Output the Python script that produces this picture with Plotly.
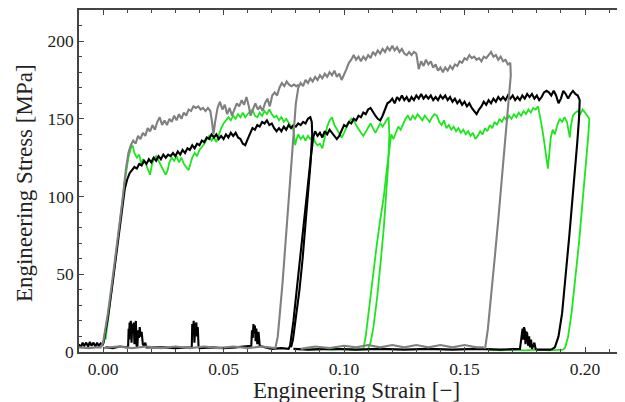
import plotly.graph_objects as go

# ---------------- data (engineering strain [-], engineering stress [MPa]) ----------------
gray_test1 = [(-0.0100, 3), (-0.0060, 2.5), (-0.0030, 3), (-0.0010, 3), (0.0000, 6), (0.0020, 25), (0.0040, 48),
              (0.0060, 72), (0.0080, 97), (0.0095, 118), (0.0105, 128), (0.0115, 133), (0.0125, 136), (0.0135, 134),
              (0.0145, 139), (0.0155, 137), (0.0165, 141), (0.0175, 139), (0.0185, 144), (0.0195, 142), (0.0205, 146),
              (0.0215, 143), (0.0225, 148), (0.0235, 151), (0.0245, 146), (0.0255, 149), (0.0265, 146), (0.0275, 150),
              (0.0285, 148), (0.0295, 152), (0.0305, 149), (0.0315, 153), (0.0325, 150), (0.0335, 154), (0.0345, 152),
              (0.0355, 156), (0.0365, 155), (0.0375, 158), (0.0385, 157), (0.0395, 158), (0.0405, 156), (0.0415, 157),
              (0.0425, 155), (0.0435, 157), (0.0445, 155), (0.0452, 148), (0.0458, 140), (0.0465, 148), (0.0475, 157),
              (0.0485, 161), (0.0495, 156), (0.0505, 159), (0.0515, 153), (0.0525, 157), (0.0535, 152), (0.0545, 156),
              (0.0555, 160), (0.0565, 158), (0.0575, 162), (0.0585, 159), (0.0595, 164), (0.0605, 158), (0.0612, 152),
              (0.0622, 156), (0.0632, 160), (0.0642, 156), (0.0652, 158), (0.0662, 155), (0.0672, 160), (0.0682, 163),
              (0.0692, 158), (0.0702, 165), (0.0712, 167), (0.0722, 165), (0.0732, 170), (0.0742, 173), (0.0752, 171),
              (0.0762, 174), (0.0772, 172), (0.0782, 171), (0.0792, 172), (0.0802, 171), (0.0812, 172)]

gray_test2 = [(0.0000, 2.5), (0.0060, 3.5), (0.0120, 2.5), (0.0180, 3.5), (0.0240, 2.5), (0.0300, 3.5), (0.0360, 2.5),
              (0.0420, 3.5), (0.0480, 2.5), (0.0540, 3.5), (0.0600, 2.5), (0.0660, 3.5), (0.0715, 2.5), (0.0725, 10),
              (0.0745, 45), (0.0765, 85), (0.0780, 115), (0.0790, 140), (0.0800, 160), (0.0810, 170), (0.0820, 173),
              (0.0830, 171), (0.0840, 175), (0.0850, 173), (0.0860, 176), (0.0870, 174), (0.0880, 177), (0.0890, 175),
              (0.0900, 178), (0.0910, 176), (0.0920, 179), (0.0930, 177), (0.0940, 180), (0.0950, 178), (0.0960, 181),
              (0.0970, 177), (0.0980, 179), (0.0990, 175), (0.1000, 178), (0.1010, 182), (0.1020, 186), (0.1030, 188),
              (0.1040, 191), (0.1050, 188), (0.1060, 190), (0.1070, 187), (0.1080, 190), (0.1090, 188), (0.1100, 191),
              (0.1110, 189), (0.1120, 193), (0.1130, 191), (0.1140, 194), (0.1150, 192), (0.1160, 195), (0.1170, 193),
              (0.1180, 196), (0.1190, 194), (0.1200, 197), (0.1210, 194), (0.1220, 196), (0.1230, 193), (0.1240, 195),
              (0.1250, 192), (0.1260, 191), (0.1270, 193), (0.1280, 191), (0.1290, 193), (0.1300, 192), (0.1305, 186),
              (0.1310, 182), (0.1320, 187), (0.1330, 184), (0.1340, 188), (0.1350, 185), (0.1360, 187), (0.1370, 183),
              (0.1380, 185), (0.1390, 181), (0.1400, 183), (0.1410, 180), (0.1420, 183), (0.1430, 181), (0.1440, 184),
              (0.1450, 182), (0.1460, 185), (0.1470, 184), (0.1480, 187), (0.1490, 186), (0.1500, 189), (0.1510, 188),
              (0.1520, 191), (0.1530, 189), (0.1540, 190), (0.1550, 188), (0.1560, 189), (0.1570, 187), (0.1580, 190),
              (0.1590, 189), (0.1600, 191), (0.1610, 193), (0.1620, 190), (0.1630, 191), (0.1640, 188), (0.1650, 190),
              (0.1660, 187), (0.1670, 188), (0.1680, 185), (0.1690, 186), (0.1692, 178), (0.1682, 160), (0.1670, 135),
              (0.1655, 110), (0.1640, 85), (0.1625, 60), (0.1610, 35), (0.1597, 15), (0.1587, 4), (0.1585, 2)]

gray_base = [(0.0820, 2), (0.0880, 3.5), (0.0940, 2.5), (0.1000, 4), (0.1050, 3), (0.1100, 4.5), (0.1150, 3),
             (0.1200, 4.5), (0.1250, 3), (0.1300, 4.5), (0.1350, 3), (0.1400, 4.5), (0.1450, 3), (0.1500, 4.5),
             (0.1550, 3), (0.1580, 3)]

black_test1 = [(-0.0100, 5), (-0.0092, 3), (-0.0085, 6), (-0.0078, 4), (-0.0070, 6), (-0.0062, 3.5), (-0.0055, 6.5),
               (-0.0048, 4), (-0.0040, 6), (-0.0032, 3.5), (-0.0025, 6), (-0.0018, 4), (-0.0010, 5.5), (-0.0004, 4),
               (0.0002, 6), (0.0020, 22), (0.0040, 45), (0.0060, 70), (0.0080, 95), (0.0090, 105), (0.0100, 111),
               (0.0110, 115), (0.0120, 117), (0.0130, 119), (0.0140, 118), (0.0150, 121), (0.0160, 120), (0.0170, 123),
               (0.0180, 121), (0.0190, 124), (0.0200, 122), (0.0210, 125), (0.0220, 123), (0.0230, 126), (0.0240, 124),
               (0.0250, 127), (0.0260, 125), (0.0270, 127), (0.0280, 126), (0.0290, 128), (0.0300, 126), (0.0310, 129),
               (0.0320, 127), (0.0330, 130), (0.0340, 128), (0.0350, 131), (0.0360, 130), (0.0370, 133), (0.0380, 131),
               (0.0390, 134), (0.0400, 133), (0.0410, 136), (0.0420, 135), (0.0430, 138), (0.0440, 137), (0.0450, 140),
               (0.0460, 138), (0.0470, 140), (0.0480, 137), (0.0490, 139), (0.0500, 137), (0.0510, 140), (0.0520, 138),
               (0.0530, 141), (0.0540, 139), (0.0550, 141), (0.0560, 138), (0.0570, 137), (0.0580, 134), (0.0590, 133),
               (0.0600, 137), (0.0610, 141), (0.0620, 144), (0.0630, 143), (0.0640, 146), (0.0650, 145), (0.0660, 148),
               (0.0670, 147), (0.0680, 149), (0.0690, 146), (0.0700, 147), (0.0710, 144), (0.0720, 142), (0.0730, 144),
               (0.0740, 142), (0.0750, 145), (0.0760, 143), (0.0770, 146), (0.0780, 144), (0.0790, 146), (0.0800, 145),
               (0.0810, 147), (0.0820, 146), (0.0830, 148), (0.0840, 147), (0.0850, 150), (0.0860, 151), (0.0866, 148),
               (0.0868, 140), (0.0860, 120), (0.0850, 100), (0.0840, 80), (0.0828, 60), (0.0815, 40), (0.0800, 20),
               (0.0788, 8), (0.0780, 3)]

black_test2 = [(0.0010, 3), (0.0040, 2.5), (0.0070, 3.5), (0.0100, 3), (0.0104, 4), (0.0106, 15), (0.0108, 8),
               (0.0110, 19), (0.0112, 10), (0.0115, 20), (0.0118, 6), (0.0121, 18), (0.0124, 12), (0.0127, 19),
               (0.0130, 5), (0.0133, 17), (0.0136, 20), (0.0139, 4), (0.0142, 3), (0.0146, 14), (0.0149, 9),
               (0.0152, 16), (0.0156, 10), (0.0160, 13), (0.0165, 5), (0.0170, 4), (0.0175, 6), (0.0180, 3),
               (0.0250, 3), (0.0300, 2.5), (0.0350, 3), (0.0368, 3), (0.0370, 18), (0.0373, 12), (0.0376, 20),
               (0.0379, 6), (0.0383, 17), (0.0387, 19), (0.0390, 10), (0.0393, 16), (0.0396, 4), (0.0400, 2.5),
               (0.0450, 3), (0.0500, 2.5), (0.0550, 3), (0.0600, 3.5), (0.0615, 4), (0.0618, 14), (0.0621, 9),
               (0.0624, 18), (0.0627, 12), (0.0630, 17), (0.0633, 7), (0.0636, 15), (0.0640, 5), (0.0645, 13),
               (0.0650, 4), (0.0670, 3), (0.0700, 2), (0.0740, 2.5), (0.0770, 2), (0.0776, 4), (0.0790, 20),
               (0.0805, 42), (0.0820, 65), (0.0835, 88), (0.0850, 108), (0.0862, 125), (0.0872, 138), (0.0880, 142),
               (0.0890, 139), (0.0900, 141), (0.0910, 138), (0.0920, 142), (0.0930, 140), (0.0940, 143), (0.0950, 141),
               (0.0960, 139), (0.0970, 137), (0.0980, 139), (0.0990, 143), (0.1000, 146), (0.1010, 145), (0.1020, 148),
               (0.1030, 147), (0.1040, 150), (0.1050, 149), (0.1060, 152), (0.1070, 151), (0.1080, 154), (0.1090, 153),
               (0.1100, 156), (0.1110, 157), (0.1120, 154), (0.1130, 152), (0.1140, 150), (0.1150, 149), (0.1160, 152),
               (0.1170, 156), (0.1180, 160), (0.1190, 161), (0.1200, 163), (0.1210, 160), (0.1220, 164), (0.1230, 162),
               (0.1240, 165), (0.1250, 162), (0.1260, 164), (0.1270, 161), (0.1280, 164), (0.1290, 162), (0.1300, 165),
               (0.1310, 163), (0.1320, 166), (0.1330, 163), (0.1340, 165), (0.1350, 163), (0.1360, 165), (0.1370, 162),
               (0.1380, 164), (0.1390, 162), (0.1400, 165), (0.1410, 163), (0.1420, 165), (0.1430, 162), (0.1440, 164),
               (0.1450, 161), (0.1460, 163), (0.1470, 160), (0.1480, 162), (0.1490, 159), (0.1500, 161), (0.1510, 158),
               (0.1520, 160), (0.1530, 157), (0.1540, 155), (0.1550, 153), (0.1560, 156), (0.1570, 158), (0.1580, 161),
               (0.1590, 159), (0.1600, 162), (0.1610, 160), (0.1620, 163), (0.1630, 161), (0.1640, 164), (0.1650, 162),
               (0.1660, 164), (0.1670, 162), (0.1680, 165), (0.1690, 163), (0.1700, 165), (0.1710, 162), (0.1720, 164),
               (0.1730, 162), (0.1740, 165), (0.1750, 163), (0.1760, 166), (0.1770, 164), (0.1780, 166), (0.1790, 163),
               (0.1800, 165), (0.1810, 162), (0.1820, 164), (0.1830, 167), (0.1840, 168), (0.1850, 167), (0.1860, 165),
               (0.1870, 168), (0.1880, 165), (0.1890, 160), (0.1900, 163), (0.1910, 168), (0.1920, 166), (0.1930, 163),
               (0.1940, 166), (0.1950, 168), (0.1960, 166), (0.1970, 165), (0.1978, 162), (0.1975, 150), (0.1968, 135),
               (0.1958, 115), (0.1948, 97), (0.1935, 75), (0.1920, 50), (0.1905, 25), (0.1890, 10), (0.1875, 3),
               (0.1860, 1.5)]

black_base = [(0.0790, 2), (0.0850, 1.5), (0.0950, 2), (0.1050, 1.5), (0.1150, 2), (0.1250, 1.5), (0.1350, 2),
              (0.1450, 1.5), (0.1550, 2), (0.1650, 1.5), (0.1730, 2), (0.1738, 12), (0.1741, 15), (0.1744, 8),
              (0.1747, 16), (0.1750, 14), (0.1753, 5), (0.1756, 13), (0.1760, 12), (0.1764, 4), (0.1768, 10),
              (0.1772, 3), (0.1776, 8), (0.1780, 2), (0.1790, 6), (0.1795, 2), (0.1800, 1.5), (0.1860, 1.5)]

green_test1 = [(0.0010, 8), (0.0030, 32), (0.0050, 58), (0.0070, 84), (0.0090, 110), (0.0105, 125), (0.0115, 131),
               (0.0122, 133), (0.0130, 128), (0.0140, 125), (0.0150, 127), (0.0158, 121), (0.0165, 124), (0.0175, 122),
               (0.0185, 118), (0.0195, 114), (0.0202, 120), (0.0210, 124), (0.0220, 126), (0.0230, 123), (0.0240, 121),
               (0.0250, 118), (0.0260, 114), (0.0268, 117), (0.0275, 122), (0.0285, 125), (0.0295, 123), (0.0305, 126),
               (0.0315, 122), (0.0325, 125), (0.0335, 121), (0.0345, 119), (0.0355, 117), (0.0362, 121), (0.0370, 125),
               (0.0380, 128), (0.0390, 126), (0.0400, 130), (0.0410, 132), (0.0420, 134), (0.0430, 137), (0.0440, 139),
               (0.0450, 136), (0.0460, 138), (0.0470, 135), (0.0480, 140), (0.0490, 144), (0.0500, 147), (0.0510, 149),
               (0.0520, 151), (0.0530, 149), (0.0540, 152), (0.0550, 150), (0.0560, 153), (0.0570, 151), (0.0580, 154),
               (0.0590, 151), (0.0600, 153), (0.0610, 155), (0.0620, 156), (0.0630, 152), (0.0640, 151), (0.0650, 154),
               (0.0660, 152), (0.0670, 155), (0.0680, 153), (0.0690, 156), (0.0700, 153), (0.0710, 151), (0.0720, 152),
               (0.0730, 149), (0.0740, 151), (0.0750, 148), (0.0760, 150), (0.0770, 147), (0.0780, 145), (0.0790, 143),
               (0.0797, 133), (0.0803, 137), (0.0810, 140), (0.0820, 137), (0.0830, 139), (0.0840, 136), (0.0850, 139),
               (0.0860, 137), (0.0870, 139), (0.0880, 135), (0.0890, 133), (0.0900, 134), (0.0910, 131), (0.0920, 138),
               (0.0930, 145), (0.0940, 149), (0.0950, 151), (0.0960, 146), (0.0970, 143), (0.0980, 140), (0.0990, 138),
               (0.1000, 141), (0.1010, 145), (0.1020, 148), (0.1030, 150), (0.1040, 149), (0.1050, 146), (0.1060, 143),
               (0.1070, 141), (0.1080, 139), (0.1090, 142), (0.1100, 145), (0.1110, 147), (0.1120, 144), (0.1130, 141),
               (0.1140, 144), (0.1150, 147), (0.1160, 145), (0.1170, 148), (0.1180, 150), (0.1185, 151), (0.1188, 140),
               (0.1183, 120), (0.1175, 100), (0.1165, 80), (0.1152, 58), (0.1138, 36), (0.1122, 16), (0.1110, 6),
               (0.1100, 2)]

green_test2 = [(0.0850, 1.5), (0.0900, 2), (0.0950, 1.5), (0.1000, 2), (0.1050, 1.5), (0.1080, 2), (0.1090, 10),
               (0.1105, 30), (0.1120, 50), (0.1135, 68), (0.1150, 85), (0.1165, 100), (0.1178, 118), (0.1188, 132),
               (0.1196, 140), (0.1205, 137), (0.1215, 141), (0.1225, 145), (0.1235, 143), (0.1245, 147), (0.1255, 150),
               (0.1265, 152), (0.1275, 149), (0.1285, 152), (0.1295, 150), (0.1305, 153), (0.1315, 151), (0.1325, 149),
               (0.1335, 152), (0.1345, 150), (0.1355, 148), (0.1365, 151), (0.1375, 153), (0.1385, 152), (0.1395, 148),
               (0.1405, 146), (0.1415, 149), (0.1425, 144), (0.1435, 146), (0.1445, 143), (0.1455, 145), (0.1465, 142),
               (0.1475, 144), (0.1485, 141), (0.1495, 143), (0.1505, 140), (0.1515, 142), (0.1525, 139), (0.1535, 141),
               (0.1545, 137), (0.1555, 139), (0.1565, 142), (0.1575, 140), (0.1585, 144), (0.1595, 142), (0.1605, 146),
               (0.1615, 144), (0.1625, 148), (0.1635, 146), (0.1645, 150), (0.1655, 148), (0.1665, 151), (0.1675, 149),
               (0.1685, 152), (0.1695, 150), (0.1705, 153), (0.1715, 151), (0.1725, 154), (0.1735, 152), (0.1745, 155),
               (0.1755, 153), (0.1765, 156), (0.1775, 154), (0.1785, 157), (0.1795, 156), (0.1805, 158), (0.1812, 153),
               (0.1820, 146), (0.1828, 138), (0.1835, 130), (0.1841, 122), (0.1846, 118), (0.1852, 128), (0.1858, 138),
               (0.1866, 143), (0.1875, 140), (0.1885, 146), (0.1895, 150), (0.1905, 148), (0.1915, 151), (0.1925, 148),
               (0.1932, 142), (0.1937, 138), (0.1942, 146), (0.1950, 152), (0.1960, 154), (0.1970, 155), (0.1980, 153),
               (0.1990, 156), (0.2000, 154), (0.2010, 152), (0.2018, 150), (0.2014, 140), (0.2006, 125), (0.1996, 105),
               (0.1988, 90), (0.1975, 70), (0.1960, 48), (0.1945, 26), (0.1930, 10), (0.1918, 3), (0.1910, 1.5)]

green_base = [(0.1600, 1.5), (0.1650, 1), (0.1700, 1.5), (0.1750, 1), (0.1800, 1.5), (0.1850, 1), (0.1910, 1.5)]

x_tick_values = [0.00, 0.05, 0.10, 0.15, 0.20]
y_tick_values = [0, 50, 100, 150, 200]
x_title = "Engineering Strain [\u2212]"
y_title = "Engineering Stress [MPa]"


def join(*segments):
    xs, ys = [], []
    for seg in segments:
        if xs:
            xs.append(None)
            ys.append(None)
        xs.extend(p[0] for p in seg)
        ys.extend(p[1] for p in seg)
    return xs, ys


FONT = "Liberation Serif, Times New Roman, serif"
fig = go.Figure()

gx, gy = join(green_test1, green_test2, green_base)
fig.add_trace(go.Scatter(x=gx, y=gy, mode="lines", line=dict(color="#1ee61e", width=1.8), connectgaps=False))
bx, by = join(black_test1, black_test2, black_base)
fig.add_trace(go.Scatter(x=bx, y=by, mode="lines", line=dict(color="#000000", width=2.1), connectgaps=False))
ax, ay = join(gray_test1, gray_test2, gray_base)
fig.add_trace(go.Scatter(x=ax, y=ay, mode="lines", line=dict(color="#808080", width=2.1), connectgaps=False))

# the page body has an 8 px default margin, so the figure is sized/offset to compensate
fig.update_layout(
    width=617, height=394,
    margin=dict(l=71, r=0, t=0, b=49.5),
    paper_bgcolor="white", plot_bgcolor="white",
    showlegend=False,
    font=dict(family=FONT, color="#222", size=17.5),
    xaxis=dict(range=[-0.0100, 0.2166], tickvals=x_tick_values, tickformat=".2f",
               ticks="inside", ticklen=5, tickcolor="#444", tickwidth=1,
               minor=dict(dtick=0.01, tick0=0, ticks="inside", ticklen=3, tickcolor="#444"),
               showline=True, linecolor="#444", linewidth=1.6, mirror="ticks",
               showgrid=False, zeroline=False, tickfont=dict(family=FONT, size=17.5, color="#222")),
    yaxis=dict(range=[0, 220], tickvals=y_tick_values,
               ticks="inside", ticklen=5, tickcolor="#444", tickwidth=1,
               minor=dict(dtick=10, tick0=0, ticks="inside", ticklen=3, tickcolor="#444"),
               showline=True, linecolor="#444", linewidth=1.6,
               showgrid=False, zeroline=False, tickfont=dict(family=FONT, size=17.5, color="#222")),
    annotations=[
        dict(text=x_title, xref="paper", yref="paper", x=0.509, y=-0.112, xanchor="center", yanchor="middle",
             showarrow=False, font=dict(family=FONT, size=23, color="#222")),
        dict(text=y_title, xref="paper", yref="paper", x=-0.1007, y=0.494, xanchor="center", yanchor="middle",
             textangle=-90, showarrow=False, font=dict(family=FONT, size=23, color="#222")),
    ],
)

fig.write_html("out.html")
